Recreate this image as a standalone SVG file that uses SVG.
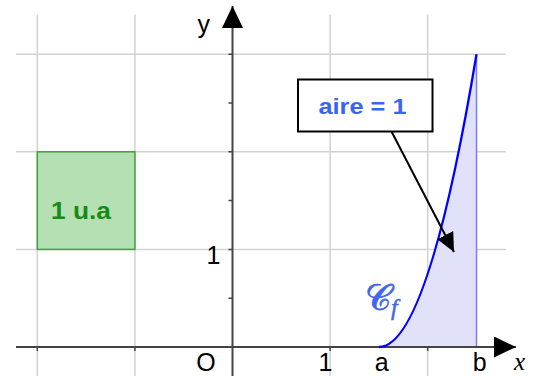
<svg xmlns="http://www.w3.org/2000/svg" width="536" height="376" viewBox="0 0 536 376">
<style>
.grid{stroke:#d2d2d2;stroke-width:1.5;fill:none}
.axis{stroke:#444;stroke-width:2;fill:none}
.tick{stroke:#444;stroke-width:1.5}
.lbl{font-family:"Liberation Sans",Arial,sans-serif;font-size:25px;fill:#000}
</style>
<defs>
<marker id="axarrow" markerUnits="userSpaceOnUse" markerWidth="23" markerHeight="22" refX="22" refY="10.5" orient="auto" viewBox="0 0 23 22">
<path d="M0,0 L22,10.5 L0,21 Z" fill="#000"/>
</marker>
<marker id="arrow" markerUnits="userSpaceOnUse" markerWidth="20" markerHeight="19" refX="19" refY="9" orient="auto" viewBox="0 0 20 19">
<path d="M0,0 L19,9 L0,18 Z" fill="#000"/>
</marker>
</defs>
<g id="grid">
<path class="grid" d="M37.3,14.4V376 M134.9,14.4V376 M330.1,14.4V376 M427.7,14.4V376 M16,249.4H506 M16,151.8H506 M16,54.2H506"/>
</g>
<g id="area">
<path d="M378.9,347 Q427.7,347 476.5,54.2 L476.5,347 Z" fill="#e1e1fa"/>
<path d="M476.5,54.2V347" stroke="#7a7aff" stroke-width="1.5"/>
</g>
<g id="unit-square">
<rect x="37.3" y="151.8" width="97.6" height="97.6" fill="#b4e0b4" stroke="#3aa53a" stroke-width="1.5"/>
<text x="51" y="219.3" font-family="Liberation Sans,Arial,sans-serif" font-weight="bold" font-size="24" fill="#178a17" textLength="60" lengthAdjust="spacingAndGlyphs">1 u.a</text>
</g>
<g id="axes">
<path class="axis" d="M16,347H516" marker-end="url(#axarrow)"/>
<path class="axis" d="M232.5,376V6" marker-end="url(#axarrow)"/>
<path class="tick" d="M37.3,347v4 M134.9,347v4 M330.1,347v4 M427.7,347v4 M228.5,298.2h4 M228.5,249.4h4 M228.5,200.6h4 M228.5,151.8h4 M228.5,103h4 M228.5,54.2h4"/>
<text class="lbl" x="197.5" y="32.8">y</text>
<text class="lbl" x="220.5" y="264" text-anchor="end">1</text>
<text class="lbl" x="206" y="370.5" text-anchor="middle">O</text>
<text class="lbl" x="325.5" y="370.5" text-anchor="middle">1</text>
<text class="lbl" x="381.7" y="370.5" text-anchor="middle">a</text>
<text class="lbl" x="479.7" y="370.5" text-anchor="middle">b</text>
<text x="519.5" y="370" text-anchor="middle" font-family="Liberation Serif,Times New Roman,serif" font-style="italic" font-size="25">x</text>
</g>
<g id="curve">
<path d="M378.9,347 Q427.7,347 476.5,54.2" fill="none" stroke="#0000ff" stroke-width="2.3"/>
<text x="365" y="310" font-family="DejaVu Serif,DejaVu Sans,serif" font-size="36" fill="#4466ee" stroke="#4466ee" stroke-width="0.8">𝒞<tspan font-family="Liberation Serif,serif" font-style="italic" font-size="24" stroke-width="0.5" dy="5">f</tspan></text>
</g>
<g id="label-box">
<rect x="298" y="79.5" width="134.5" height="52" fill="#fff" stroke="#000" stroke-width="2"/>
<text x="318.5" y="114.3" font-family="Liberation Sans,Arial,sans-serif" font-weight="bold" font-size="22" fill="#3a64f5" textLength="88" lengthAdjust="spacingAndGlyphs">aire = 1</text>
</g>
<g id="connectors">
<path d="M391.5,131.5 L454,252" stroke="#000" stroke-width="2" fill="none" marker-end="url(#arrow)"/>
</g>
</svg>
